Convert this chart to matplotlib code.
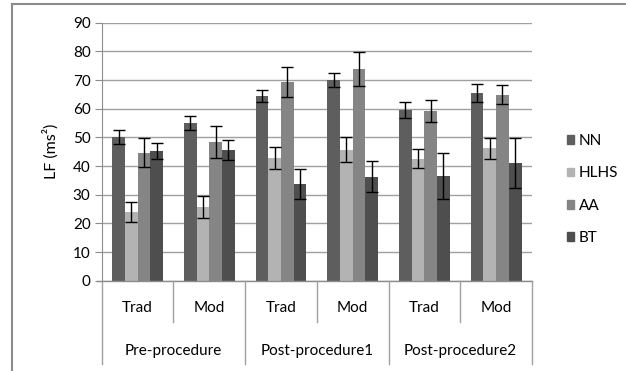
import numpy as np
import matplotlib
matplotlib.use("Agg")
import matplotlib.pyplot as plt
from matplotlib.lines import Line2D
from matplotlib.patches import Patch

plt.rcParams['font.family'] = ['Lato', 'DejaVu Sans']

# data
sub_labels = ["Trad", "Mod", "Trad", "Mod", "Trad", "Mod"]
group_labels = ["Pre-procedure", "Post-procedure1", "Post-procedure2"]
series = ["NN", "HLHS", "AA", "BT"]
colors = ["#5e5e5e", "#b3b3b3", "#858585", "#4e4e4e"]

nn = [50.2, 55.0, 64.4, 69.9, 59.5, 65.4]
hlhs = [23.9, 25.8, 42.9, 45.7, 42.6, 46.2]
aa = [44.6, 48.3, 69.3, 73.8, 59.2, 64.9]
bt = [45.2, 45.6, 33.6, 36.3, 36.6, 41.2]

nn_err = [2.4, 2.4, 2.2, 2.4, 2.9, 3.2]
hlhs_err = [3.5, 3.8, 3.8, 4.3, 3.4, 3.7]
aa_err = [5.1, 5.6, 5.1, 6.0, 3.8, 3.2]
bt_err = [2.7, 3.6, 5.2, 5.5, 8.0, 8.7]

values = [nn, hlhs, aa, bt]
errors = [nn_err, hlhs_err, aa_err, bt_err]

W, H = 626, 371
fs = 11
fig = plt.figure(figsize=(W / 100, H / 100), dpi=100)

# outer chart frame (top and left edges visible)
fig.add_artist(Line2D([12 / W, 1], [1 - 4 / H, 1 - 4 / H], color="#8c8c8c", lw=1.5))
fig.add_artist(Line2D([12 / W, 12 / W], [0, 1 - 4 / H], color="#8c8c8c", lw=1.5))

ax = fig.add_axes([101.7 / W, 1 - 280.7 / H, (532 - 101.7) / W, (280.7 - 22.7) / H])

x = np.arange(len(sub_labels))
bw = 0.177
for i, (name, vals, errs, c) in enumerate(zip(series, values, errors, colors)):
    ax.bar(x + (i - 1.5) * bw, vals, bw, color=c, label=name, zorder=2)
    ax.errorbar(x + (i - 1.5) * bw, vals, yerr=errs, fmt="none", ecolor="black",
                elinewidth=1, capsize=4, capthick=1, zorder=3)

ax.set_xlim(-0.5, len(sub_labels) - 0.5)
ax.set_ylim(0, 90)
ax.set_yticks(np.arange(0, 91, 10))
ax.yaxis.grid(True, color="#a0a0a0", lw=1)
ax.set_axisbelow(True)
for s in ["top", "right", "bottom"]:
    ax.spines[s].set_visible(False)
ax.spines["left"].set_color("#8c8c8c")
ax.tick_params(axis="y", length=5, color="#8c8c8c", labelsize=fs, pad=3)
ax.set_xticks([])
ax.set_ylabel("LF (ms²)", fontsize=fs + 0.5, labelpad=10)

# category table below the axis
tr = ax.get_xaxis_transform()
ax.plot([-0.5 - 0.012 * 6, len(sub_labels) - 0.5], [0, 0], transform=tr,
        color="#8c8c8c", lw=1, clip_on=False)
for k in range(len(sub_labels) + 1):
    xb = k - 0.5
    ybot = -0.323 if k % 2 == 0 else -0.159
    ax.plot([xb, xb], [0, ybot], transform=tr, color="#a0a0a0", lw=1, clip_on=False)
for k, lab in enumerate(sub_labels):
    ax.text(k, -0.107, lab, transform=tr, ha="center", va="center", fontsize=fs)
for g, lab in enumerate(group_labels):
    ax.text(2 * g + 0.5, -0.271, lab, transform=tr, ha="center", va="center", fontsize=fs)

handles = [Patch(color=c, label=n) for n, c in zip(series, colors)]
fig.legend(handles=handles, loc="center left", bbox_to_anchor=(559 / W, 1 - 189.5 / H),
           frameon=False, fontsize=fs, handlelength=0.5, handleheight=0.5,
           handletextpad=0.3, labelspacing=1.2, borderpad=0)

fig.savefig("out.png", dpi=100)
